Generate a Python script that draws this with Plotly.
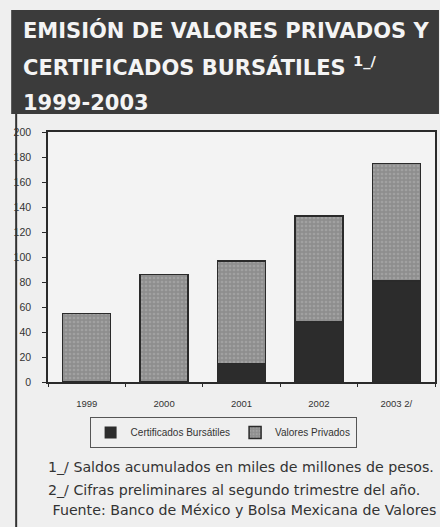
import plotly.graph_objects as go

# Saldos acumulados (miles de millones de pesos)
years = ["1999", "2000", "2001", "2002", "2003 2/"]
certificados = [0, 0, 15, 48, 81]
valores = [55, 86, 82, 85, 94]

y_ticks = list(range(0, 201, 20))

title_lines = [
    "EMISIÓN DE VALORES PRIVADOS Y",
    "CERTIFICADOS BURSÁTILES <sup>1_/</sup>",
    "1999-2003",
]
notes = [
    "1_/ Saldos acumulados en miles de millones de pesos.",
    "2_/ Cifras preliminares al segundo trimestre del año.",
    " Fuente: Banco de México y Bolsa Mexicana de Valores",
]

W, H = 440, 527
ML, MR, MT, MB = 48, 3, 132, 145
PW, PH = W - ML - MR, H - MT - MB


def px(x):
    return (x - ML) / PW


def py(y):
    return (H - MB - y) / PH


PAGE = "#efefef"
INK = "#2a2a2a"


def outline(values):
    # no outline on empty segments
    return [0 if v == 0 else 1.5 for v in values]


fig = go.Figure()
fig.add_trace(go.Bar(
    x=years, y=certificados, name="Certificados Bursátiles",
    marker=dict(color="#2c2c2c",
                line=dict(color=INK, width=outline(certificados))),
    width=0.62,
))
fig.add_trace(go.Bar(
    x=years, y=valores, name="Valores Privados",
    marker=dict(
        color="#8e8e8e",
        line=dict(color=INK, width=outline(valores)),
        pattern=dict(shape=".", bgcolor="#8e8e8e", fgcolor="#b4b4b4",
                     size=4, solidity=0.35, fillmode="overlay"),
    ),
    width=0.62,
))

shapes = [
    # dark title banner
    dict(type="rect", xref="paper", yref="paper",
         x0=px(11), x1=px(441), y0=py(114), y1=py(10),
         fillcolor="#3b3b3b", line=dict(width=0), layer="below"),
    # left rule of the outer box
    dict(type="line", xref="paper", yref="paper",
         x0=px(16), x1=px(16), y0=py(114), y1=py(530),
         line=dict(color="#333333", width=2)),
]

annotations = []
for text, yc in zip(title_lines, [30, 66, 103]):
    annotations.append(dict(
        text=text, xref="paper", yref="paper", x=px(21), y=py(yc),
        xanchor="left", yanchor="middle", showarrow=False,
        font=dict(family="DejaVu Sans", size=21, color="#f4f4f4", weight="bold"),
    ))
for text, yc in zip(notes, [467, 490, 510]):
    annotations.append(dict(
        text=text, xref="paper", yref="paper", x=px(46), y=py(yc),
        xanchor="left", yanchor="middle", showarrow=False,
        font=dict(family="DejaVu Sans", size=14.2, color="#333333"),
    ))

fig.update_layout(
    width=W, height=H, autosize=False,
    margin=dict(l=ML, r=MR, t=MT, b=MB),
    paper_bgcolor=PAGE, plot_bgcolor="#f3f3f3",
    barmode="stack", bargap=0.38,
    showlegend=True,
    legend=dict(
        orientation="h", x=px(224), xanchor="center", y=py(417), yanchor="top",
        bgcolor=PAGE, bordercolor="#555555", borderwidth=1,
        font=dict(family="Liberation Sans", size=10, color="#333333"),
        itemwidth=30, traceorder="normal",
    ),
    xaxis=dict(
        type="category", showline=True, linecolor=INK, linewidth=1.5,
        mirror=True, ticks="outside", tickson="boundaries", ticklen=3,
        tickcolor=INK, showgrid=False, ticklabelstandoff=12,
        tickfont=dict(family="Liberation Sans", size=9.5, color="#333333"),
    ),
    yaxis=dict(
        range=[0, 200], tickvals=y_ticks, showline=True, linecolor=INK,
        linewidth=1.5, mirror=True, ticks="outside", ticklen=4,
        tickcolor=INK, showgrid=False, zeroline=False, ticklabelstandoff=9,
        tickfont=dict(family="Liberation Sans", size=10.5, color="#333333"),
    ),
    shapes=shapes,
    annotations=annotations,
)

fig.write_html("out.html")
